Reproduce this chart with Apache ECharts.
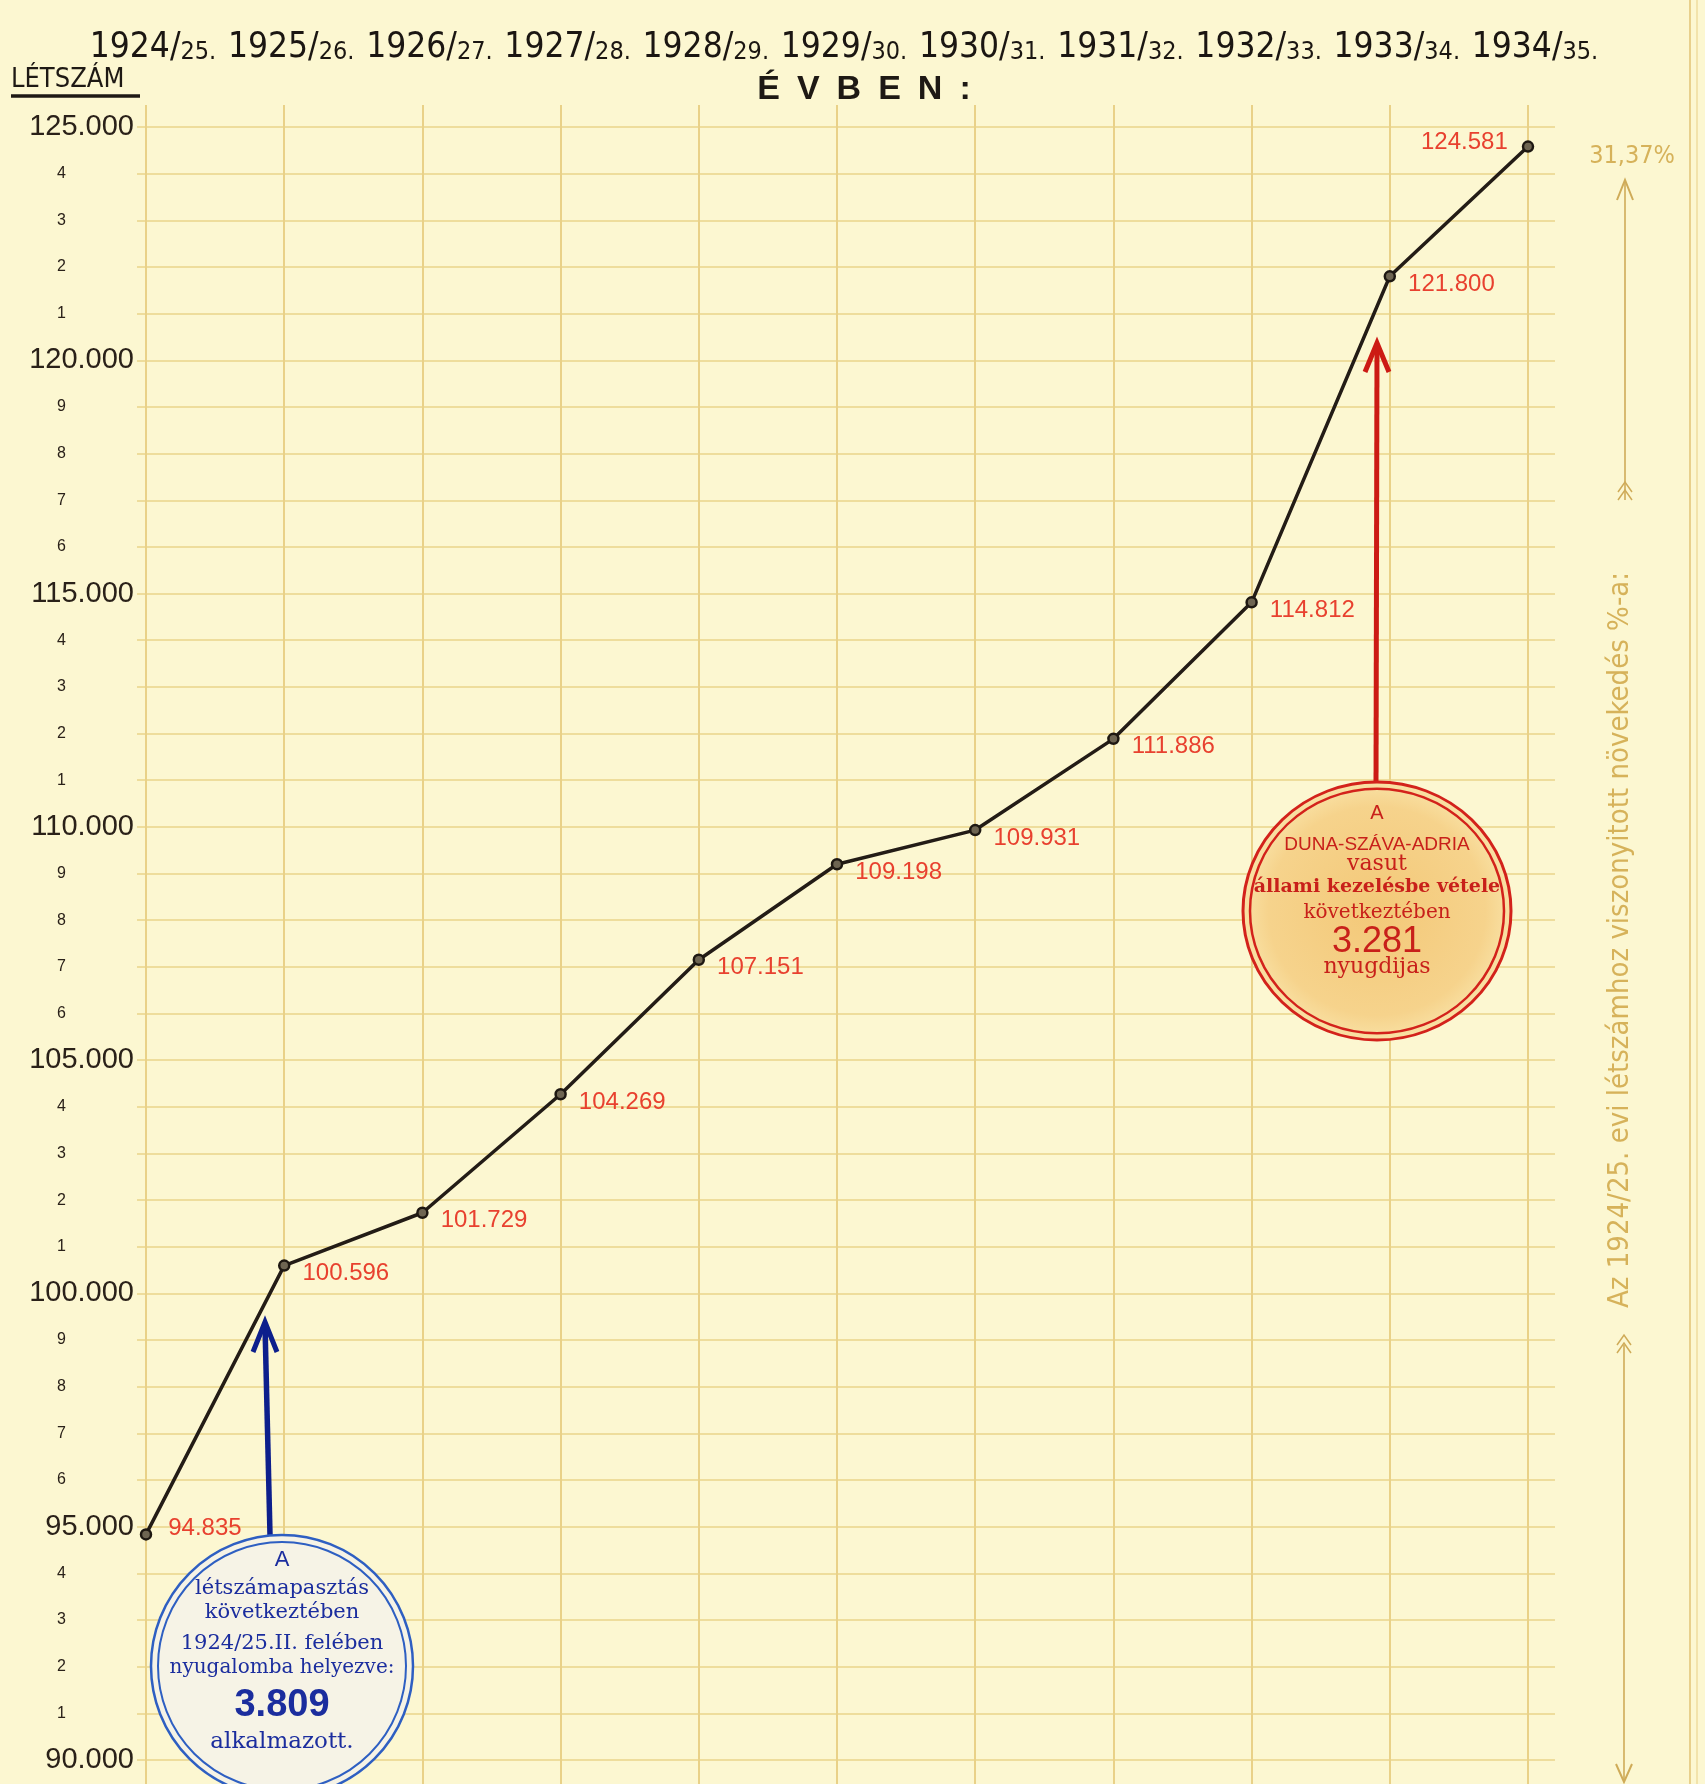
<!DOCTYPE html>
<html>
<head>
<meta charset="utf-8">
<script src="https://cdn.jsdelivr.net/npm/echarts@6/dist/echarts.min.js"></script>
<style>
html,body{margin:0;padding:0;background:#fcf7d1;}
#c{width:1705px;height:1784px;}
</style>
</head>
<body>
<div id="c"></div>
<script>
// ---- data ----
const years = ['1924/25.', '1925/26.', '1926/27.', '1927/28.', '1928/29.', '1929/30.', '1930/31.', '1931/32.', '1932/33.', '1933/34.', '1934/35.'];
const headcount = [94835, 100596, 101729, 104269, 107151, 109198, 109931, 111886, 114812, 121800, 124581];
const yMin = 90000;
const yMax = 125000;
const yStep = 1000;
const growthLabel = '31,37%';

function fmt(v) { return String(v).replace(/\B(?=(\d{3})+(?!\d))/g, '.'); }

const chart = echarts.init(document.getElementById('c'), null, {renderer: 'canvas'});

const gridColV = '#e9d188';
const gridColH = '#eedd9c';
const inkBlack = '#231c16';
const red = '#e8412f';
const faint = '#d6b25a';
const condensed = '"DejaVu Sans Condensed", "Liberation Sans", sans-serif';
const serif = '"DejaVu Serif", "Liberation Serif", serif';

const seriesData = headcount.map((v, i) => {
  const item = {value: v};
  if (i === 0) item.label = {position: 'right', offset: [4, -6]};
  else if (i === headcount.length - 1) item.label = {position: 'left', offset: [-2, -4]};
  return item;
});

const option = {
  backgroundColor: '#fcf7d1',
  animation: false,
  grid: [
    {left: 146, right: 177, top: 127, bottom: 24, containLabel: false},
    {left: 137, right: 150, top: 127, bottom: 24, containLabel: false}
  ],
  xAxis: [
    {
      type: 'category', gridIndex: 0, position: 'top', data: years, boundaryGap: false,
      axisLine: {show: false},
      axisTick: {show: true, length: 22, lineStyle: {color: gridColV, width: 2}},
      splitLine: {show: true, lineStyle: {color: gridColV, width: 2}},
      axisLabel: {
        margin: 62, interval: 0, padding: [0, 0, 0, 14],
        formatter: function (s) {
          const p = s.split('/');
          return '{a|' + p[0] + '/}{b|' + p[1] + '}';
        },
        rich: {
          a: {fontFamily: condensed, fontSize: 35, color: '#1b1612', verticalAlign: 'bottom', lineHeight: 44},
          b: {fontFamily: condensed, fontSize: 25, color: '#1b1612', verticalAlign: 'bottom', lineHeight: 44, padding: [10, 0, 0, 0]}
        }
      }
    },
    {
      type: 'category', gridIndex: 0, position: 'bottom', data: years, boundaryGap: false,
      axisLine: {show: false}, axisLabel: {show: false},
      axisTick: {show: true, length: 26, lineStyle: {color: gridColV, width: 2}},
      splitLine: {show: false}
    },
    {type: 'value', gridIndex: 1, show: false, min: 0, max: 1}
  ],
  yAxis: [
    {
      type: 'value', gridIndex: 0, min: yMin, max: yMax, interval: yStep,
      axisLine: {show: false}, axisTick: {show: false},
      splitLine: {show: false},
      axisLabel: {
        margin: 12,
        formatter: function (v) {
          if (v % 5000 === 0) return '{maj|' + fmt(v) + '}';
          return '{mn|' + ((v / 1000) % 10) + '}';
        },
        rich: {
          maj: {fontFamily: 'Liberation Sans', fontSize: 29, color: '#2a2119'},
          mn: {fontFamily: 'Liberation Sans', fontSize: 16, color: '#2a2119', padding: [0, 68, 0, 0]}
        }
      }
    },
    {
      type: 'value', gridIndex: 1, min: yMin, max: yMax, interval: yStep,
      axisLine: {show: false}, axisTick: {show: false}, axisLabel: {show: false},
      splitLine: {show: true, lineStyle: {color: gridColH, width: 2}}
    }
  ],
  series: [
    {
      type: 'line', xAxisIndex: 0, yAxisIndex: 0, data: seriesData, z: 5,
      symbol: 'circle', symbolSize: 10,
      lineStyle: {color: inkBlack, width: 3.5},
      itemStyle: {color: '#6e6552', borderColor: '#1e1812', borderWidth: 2.5},
      label: {
        show: true, position: 'right', distance: 12, offset: [0, 8],
        fontFamily: 'Liberation Sans', fontSize: 24, color: red,
        formatter: p => fmt(p.value)
      }
    }
  ],
  graphic: buildGraphics()
};

function buildGraphics() {
  const g = [];
  // LÉTSZÁM header
  g.push({type: 'text', left: 11, top: 66, style: {text: 'LÉTSZÁM', font: '27px ' + condensed, fill: '#1e1914'}});
  g.push({type: 'line', shape: {x1: 11, y1: 96, x2: 140, y2: 96}, style: {stroke: '#1e1914', lineWidth: 3.5}});
  // ÉVBEN:
  g.push({type: 'text', x: 864, y: 90, style: {text: 'É\u2002V\u2002B\u2002E\u2002N\u2002:', font: 'bold 34px "Liberation Sans"', fill: '#1e1914', align: 'center', verticalAlign: 'middle'}});

  // right margin double line
  g.push({type: 'line', shape: {x1: 1690, y1: 0, x2: 1690, y2: 1784}, style: {stroke: '#e8d08c', lineWidth: 2}});
  g.push({type: 'line', shape: {x1: 1697, y1: 0, x2: 1697, y2: 1784}, style: {stroke: '#efdc9e', lineWidth: 1.5}});

  // growth side annotation
  g.push({type: 'text', x: 1632, y: 156, style: {text: growthLabel, font: '25px ' + condensed, fill: faint, align: 'center', verticalAlign: 'middle'}});
  g.push({type: 'line', shape: {x1: 1625, y1: 500, x2: 1625, y2: 182}, style: {stroke: '#cfab58', lineWidth: 1.6}});
  g.push({type: 'polyline', shape: {points: [[1617, 200], [1625, 180], [1633, 200]]}, style: {stroke: '#cfab58', lineWidth: 2, fill: null}});
  g.push({type: 'polyline', shape: {points: [[1618, 500], [1625, 490], [1632, 500]]}, style: {stroke: '#cfab58', lineWidth: 1.5, fill: null}});
  g.push({type: 'polyline', shape: {points: [[1618, 492], [1625, 482], [1632, 492]]}, style: {stroke: '#cfab58', lineWidth: 1.5, fill: null}});
  g.push({type: 'text', x: 1620, y: 940, rotation: Math.PI / 2,
    style: {text: 'Az 1924/25. evi létszámhoz viszonyitott növekedés %-a:', font: '29px ' + condensed, fill: faint, align: 'center', verticalAlign: 'middle'}});
  g.push({type: 'line', shape: {x1: 1624, y1: 1345, x2: 1624, y2: 1780}, style: {stroke: '#cfab58', lineWidth: 1.6}});
  g.push({type: 'polyline', shape: {points: [[1617, 1345], [1624, 1335], [1631, 1345]]}, style: {stroke: '#cfab58', lineWidth: 1.5, fill: null}});
  g.push({type: 'polyline', shape: {points: [[1617, 1353], [1624, 1343], [1631, 1353]]}, style: {stroke: '#cfab58', lineWidth: 1.5, fill: null}});
  g.push({type: 'polyline', shape: {points: [[1616, 1764], [1624, 1782], [1632, 1764]]}, style: {stroke: '#cfab58', lineWidth: 2, fill: null}});

  // blue annotation: arrow + circle
  const blueInk = '#1b2d9e';
  const blueRing = '#2e5fc2';
  g.push({type: 'line', z: 10, shape: {x1: 270, y1: 1535, x2: 265, y2: 1325}, style: {stroke: '#0d1f8c', lineWidth: 5.5}});
  g.push({type: 'polyline', z: 10, shape: {points: [[253, 1352], [265, 1322], [277, 1352]]}, style: {stroke: '#0d1f8c', lineWidth: 5, fill: null}});
  g.push({type: 'circle', z: 10, shape: {cx: 282, cy: 1666, r: 131}, style: {fill: '#f6f3e6', stroke: blueRing, lineWidth: 2.5}});
  g.push({type: 'circle', z: 10, shape: {cx: 282, cy: 1666, r: 124}, style: {fill: null, stroke: blueRing, lineWidth: 2}});
  const blueLines = [
    ['A', 1560, '22px "Liberation Sans"'],
    ['létszámapasztás', 1589, '21px ' + serif],
    ['következtében', 1613, '21px ' + serif],
    ['1924/25.II. felében', 1644, '21px ' + serif],
    ['nyugalomba helyezve:', 1668, '20px ' + serif],
    ['3.809', 1706, 'bold 38px "Liberation Sans"'],
    ['alkalmazott.', 1742, '23px ' + serif]
  ];
  blueLines.forEach(l => g.push({type: 'text', z: 11, x: 282, y: l[1], style: {text: l[0], font: l[2], fill: blueInk, align: 'center', verticalAlign: 'middle'}}));

  // red annotation: arrow + circle
  const redInk = '#c8201a';
  g.push({type: 'line', z: 10, shape: {x1: 1376, y1: 784, x2: 1377, y2: 346}, style: {stroke: '#cc1a14', lineWidth: 5}});
  g.push({type: 'polyline', z: 10, shape: {points: [[1365, 372], [1377, 343], [1389, 372]]}, style: {stroke: '#cc1a14', lineWidth: 5, fill: null}});
  g.push({type: 'circle', z: 10, x: 1377, y: 911, scaleY: 0.963, shape: {cx: 0, cy: 0, r: 134},
    style: {stroke: '#d3221b', lineWidth: 3,
      fill: {type: 'radial', x: 0.5, y: 0.5, r: 0.5, colorStops: [{offset: 0, color: '#f3c878'}, {offset: 0.8, color: '#f6d38c'}, {offset: 1, color: '#f9e2a6'}]}}});
  g.push({type: 'circle', z: 10, x: 1377, y: 911, scaleY: 0.963, shape: {cx: 0, cy: 0, r: 127}, style: {fill: null, stroke: '#d3221b', lineWidth: 2.5}});
  const redLines = [
    ['A', 813, '20px "Liberation Sans"'],
    ['DUNA-SZÁVA-ADRIA', 845, '19px "Liberation Sans"'],
    ['vasut', 864, '22px ' + serif],
    ['állami kezelésbe vétele', 887, 'bold 19px ' + serif],
    ['következtében', 913, '20px ' + serif],
    ['3.281', 942, '36px "Liberation Sans"'],
    ['nyugdijas', 967, '22px ' + serif]
  ];
  redLines.forEach(l => g.push({type: 'text', z: 11, x: 1377, y: l[1], style: {text: l[0], font: l[2], fill: redInk, align: 'center', verticalAlign: 'middle'}}));
  return g;
}

chart.setOption(option);
</script>
</body>
</html>
